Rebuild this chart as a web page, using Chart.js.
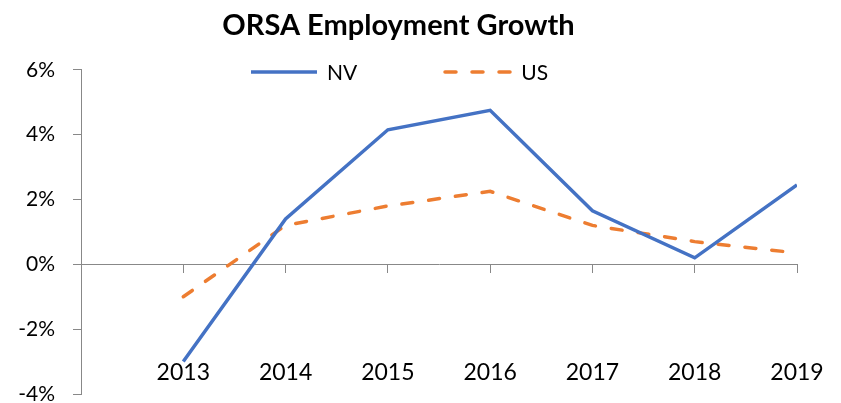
<!DOCTYPE html>
<html>
<head>
<meta charset="utf-8">
<script src="https://cdn.jsdelivr.net/npm/chart.js@4.4.1/dist/chart.umd.min.js"></script>
<style>
  html, body { margin: 0; padding: 0; background: #fff; }
  #wrap { position: relative; width: 841px; height: 403px; }
  #legend { position: absolute; left: 0; width: 797px; top: 59px; display: flex; justify-content: center;
            font-family: Lato, sans-serif; font-size: 21px; color: #000; line-height: 26px; }
  .item { display: flex; align-items: center; margin: 0 43px; }
  .item svg { margin-right: 8px; }
</style>
</head>
<body>
<div id="wrap">
  <canvas id="chart" width="841" height="403"></canvas>
  <div id="legend"></div>
</div>
<script>
const years = [2013, 2014, 2015, 2016, 2017, 2018, 2019];
const nvGrowth = [-3.0, 1.4, 4.15, 4.75, 1.65, 0.2, 2.45];
const usGrowth = [-1.0, 1.2, 1.8, 2.25, 1.2, 0.7, 0.35];
const yTicks = [-4, -2, 0, 2, 4, 6];

Chart.defaults.font.family = 'Lato, sans-serif';

const ctx = document.getElementById('chart');

const chart = new Chart(ctx, {
    type: 'line',
    data: {
        datasets: [
            {
                label: 'NV',
                data: years.map((y, i) => ({ x: y, y: nvGrowth[i] })),
                borderColor: '#4472C4',
                borderWidth: 3.5,
                pointRadius: 0,
                tension: 0
            },
            {
                label: 'US',
                data: years.map((y, i) => ({ x: y, y: usGrowth[i] })),
                borderColor: '#ED7D31',
                borderWidth: 3.5,
                borderDash: [11, 16],
                borderCapStyle: 'round',
                pointRadius: 0,
                tension: 0
            }
        ]
    },
    options: {
        responsive: false,
        animation: false,
        layout: { padding: { left: 0, right: 44, top: 0, bottom: 9 } },
        plugins: {
            title: {
                display: true,
                text: 'ORSA Employment Growth',
                color: '#000',
                font: { size: 29, weight: 'bold' },
                padding: { top: 8, bottom: 27 }
            },
            legend: { display: false },
            tooltip: { enabled: false }
        },
        scales: {
            x: {
                type: 'linear',
                min: 2012,
                max: 2019,
                position: { y: 0 },
                afterBuildTicks: s => { s.ticks = years.map(v => ({ value: v })); },
                afterFit: s => { s.paddingLeft = 0; s.paddingRight = 0; },
                ticks: { color: '#000', font: { size: 23 }, padding: 86, maxRotation: 0, callback: v => String(v) },
                grid: { drawOnChartArea: false, tickLength: 8, color: '#888' },
                border: { color: '#888' }
            },
            y: {
                min: -4,
                max: 6,
                afterBuildTicks: s => { s.ticks = yTicks.map(v => ({ value: v })); },
                afterFit: s => { s.width = 81; s.paddingTop = 0; s.paddingBottom = 0; },
                ticks: { color: '#000', font: { size: 21 }, padding: 18, callback: v => v + '%' },
                grid: { drawOnChartArea: false, tickLength: 8, color: '#888' },
                border: { color: '#888' }
            }
        }
    }
});

// legend built from the datasets
const legendEl = document.getElementById('legend');
const svgNS = 'http://www.w3.org/2000/svg';
chart.data.datasets.forEach(ds => {
    const item = document.createElement('div');
    item.className = 'item';
    const svg = document.createElementNS(svgNS, 'svg');
    svg.setAttribute('width', 70);
    svg.setAttribute('height', 6);
    const line = document.createElementNS(svgNS, 'line');
    line.setAttribute('x1', 2);
    line.setAttribute('y1', 3);
    line.setAttribute('x2', 68);
    line.setAttribute('y2', 3);
    line.setAttribute('stroke', ds.borderColor);
    line.setAttribute('stroke-width', ds.borderWidth);
    if (ds.borderDash) {
        line.setAttribute('stroke-dasharray', ds.borderDash.join(' '));
        line.setAttribute('stroke-linecap', 'round');
    }
    svg.appendChild(line);
    const label = document.createElement('span');
    label.textContent = ds.label;
    item.appendChild(svg);
    item.appendChild(label);
    legendEl.appendChild(item);
});
</script>
</body>
</html>
